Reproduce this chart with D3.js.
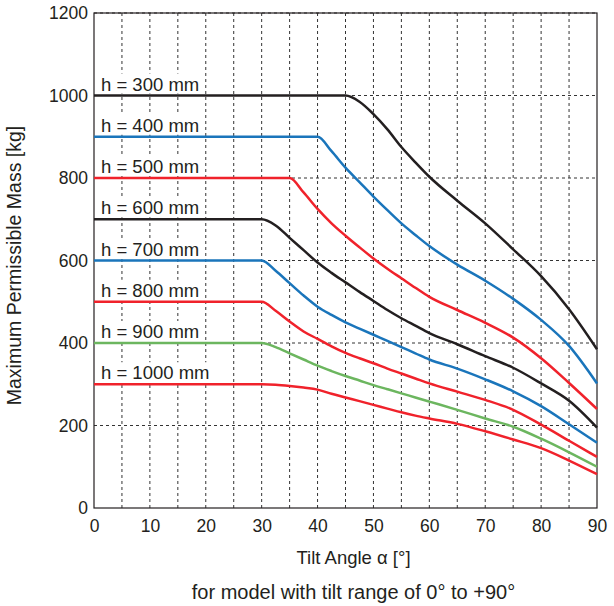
<!DOCTYPE html>
<html>
<head>
<meta charset="utf-8">
<script src="https://cdn.jsdelivr.net/npm/d3@7"></script>
<style>
  body { margin: 0; background: #fff; }
  text { font-family: "Liberation Sans", Arial, sans-serif; fill: #231f20; }
</style>
</head>
<body>
<div id="chart"></div>
<script>
// tilt angles (deg) shared by all curves
const angles = [0, 30, 32.5, 35, 37.5, 40, 42.5, 45, 47.5, 50, 52.5, 55, 57.5, 60, 65, 70, 75, 80, 85, 90]

// max permissible mass (kg) per arm height
const h300  = [1000, 1000, 1000, 1000, 1000, 1000, 1000, 1000, 985, 955, 918, 875, 838, 803, 745, 690, 627, 562, 482, 385]
const h400  = [900, 900, 900, 900, 900, 900, 865, 825, 790, 755, 722, 690, 662, 635, 590, 551, 507, 456, 393, 302]
const h500  = [800, 800, 800, 800, 765, 725, 690, 660, 632, 605, 580, 557, 534, 512, 480, 449, 413, 363, 303, 240]
const h600  = [700, 700, 685, 655, 625, 595, 570, 547, 524, 502, 480, 460, 442, 424, 397, 368, 340, 302, 260, 195]
const h700  = [600, 600, 575, 545, 515, 488, 468, 450, 435, 420, 405, 390, 375, 360, 338, 312, 283, 247, 203, 158]
const h800  = [500, 500, 478, 452, 428, 410, 392, 376, 363, 351, 338, 326, 314, 302, 282, 262, 238, 202, 163, 124]
const h900  = [400, 400, 390, 375, 360, 345, 332, 320, 309, 298, 288, 278, 268, 258, 238, 217, 197, 168, 135, 100]
const h1000 = [300, 300, 299, 296, 292, 287, 277, 268, 259, 250, 241, 232, 224, 217, 204, 186, 166, 145, 115, 82]

const labels = ["h = 300 mm", "h = 400 mm", "h = 500 mm", "h = 600 mm",
                "h = 700 mm", "h = 800 mm", "h = 900 mm", "h = 1000 mm"]
const seriesValues = [h300, h400, h500, h600, h700, h800, h900, h1000]
const colors = ["#231f20", "#1a75bb", "#f0222b", "#231f20",
                "#1a75bb", "#f0222b", "#6cb65f", "#f0222b"]

const xTicks = [0, 10, 20, 30, 40, 50, 60, 70, 80, 90]
const xGrid = d3.range(5, 90, 5)
const yTicks = [0, 200, 400, 600, 800, 1000, 1200]

const margin = {top: 13, right: 17, bottom: 98, left: 94},
    width = 614 - margin.left - margin.right,
    height = 606 - margin.top - margin.bottom;

const svg = d3.select("#chart")
  .append("svg")
    .attr("width", 614)
    .attr("height", 606)
  .append("g")
    .attr("transform", `translate(${margin.left},${margin.top})`);

const x = d3.scaleLinear().domain([0, 90]).range([0, width])
const y = d3.scaleLinear().domain([0, 1200]).range([height, 0])

// grid
svg.append("g")
  .selectAll("line")
  .data(xGrid)
  .join("line")
    .attr("x1", d => x(d)).attr("x2", d => x(d))
    .attr("y1", 0).attr("y2", height)
    .attr("stroke", "#333").attr("stroke-dasharray", "3,3")

svg.append("g")
  .selectAll("line")
  .data(yTicks.slice(1))
  .join("line")
    .attr("x1", 0).attr("x2", width)
    .attr("y1", d => y(d)).attr("y2", d => y(d))
    .attr("stroke", "#333").attr("stroke-dasharray", "3,3")

// frame
svg.append("rect")
  .attr("width", width).attr("height", height)
  .attr("fill", "none").attr("stroke", "#231f20").attr("stroke-width", 1.2)

// axes
const xAxis = svg.append("g")
  .attr("transform", `translate(0,${height})`)
  .call(d3.axisBottom(x).tickValues(xTicks).tickSize(0).tickPadding(12))
xAxis.select(".domain").remove()
xAxis.selectAll("text").style("font-size", "17.5px")

const yAxis = svg.append("g")
  .call(d3.axisLeft(y).tickValues(yTicks).tickFormat(d3.format("d")).tickSize(0).tickPadding(6))
yAxis.select(".domain").remove()
yAxis.selectAll("text").style("font-size", "17.5px")

// curve labels on white boxes (they hide the grid behind)
const labelG = svg.append("g")
  .selectAll("g")
  .data(seriesValues)
  .join("g")

labelG.append("rect")
  .attr("fill", "#fff")

labelG.append("text")
  .attr("x", 7)
  .attr("y", d => y(d[0]) - 5)
  .style("font-size", "18.5px")
  .text((d, i) => labels[i])

labelG.each(function(d) {
  const g = d3.select(this)
  const b = g.select("text").node().getBBox()
  g.select("rect")
    .attr("x", b.x - 2).attr("y", b.y)
    .attr("width", b.width + 4)
    .attr("height", y(d[0]) - 2 - b.y)
})

// curves
const line = d3.line()
  .x((d, i) => x(angles[i]))
  .y(d => y(d))
  .curve(d3.curveMonotoneX)

svg.append("g")
  .selectAll("path")
  .data(seriesValues)
  .join("path")
    .attr("d", d => line(d))
    .attr("fill", "none")
    .attr("stroke", (d, i) => colors[i])
    .attr("stroke-width", 2.5)

// axis titles
svg.append("text")
  .attr("x", width / 2 + 8)
  .attr("y", height + 56)
  .attr("text-anchor", "middle")
  .style("font-size", "18.5px")
  .text("Tilt Angle α [°]")

svg.append("text")
  .attr("x", width / 2 + 8)
  .attr("y", height + 91)
  .attr("text-anchor", "middle")
  .style("font-size", "20px")
  .text("for model with tilt range of 0° to +90°")

svg.append("text")
  .attr("transform", `translate(${-73},${height / 2 + 5}) rotate(-90)`)
  .attr("text-anchor", "middle")
  .style("font-size", "19.5px")
  .text("Maximum Permissible Mass [kg]")
</script>
</body>
</html>
